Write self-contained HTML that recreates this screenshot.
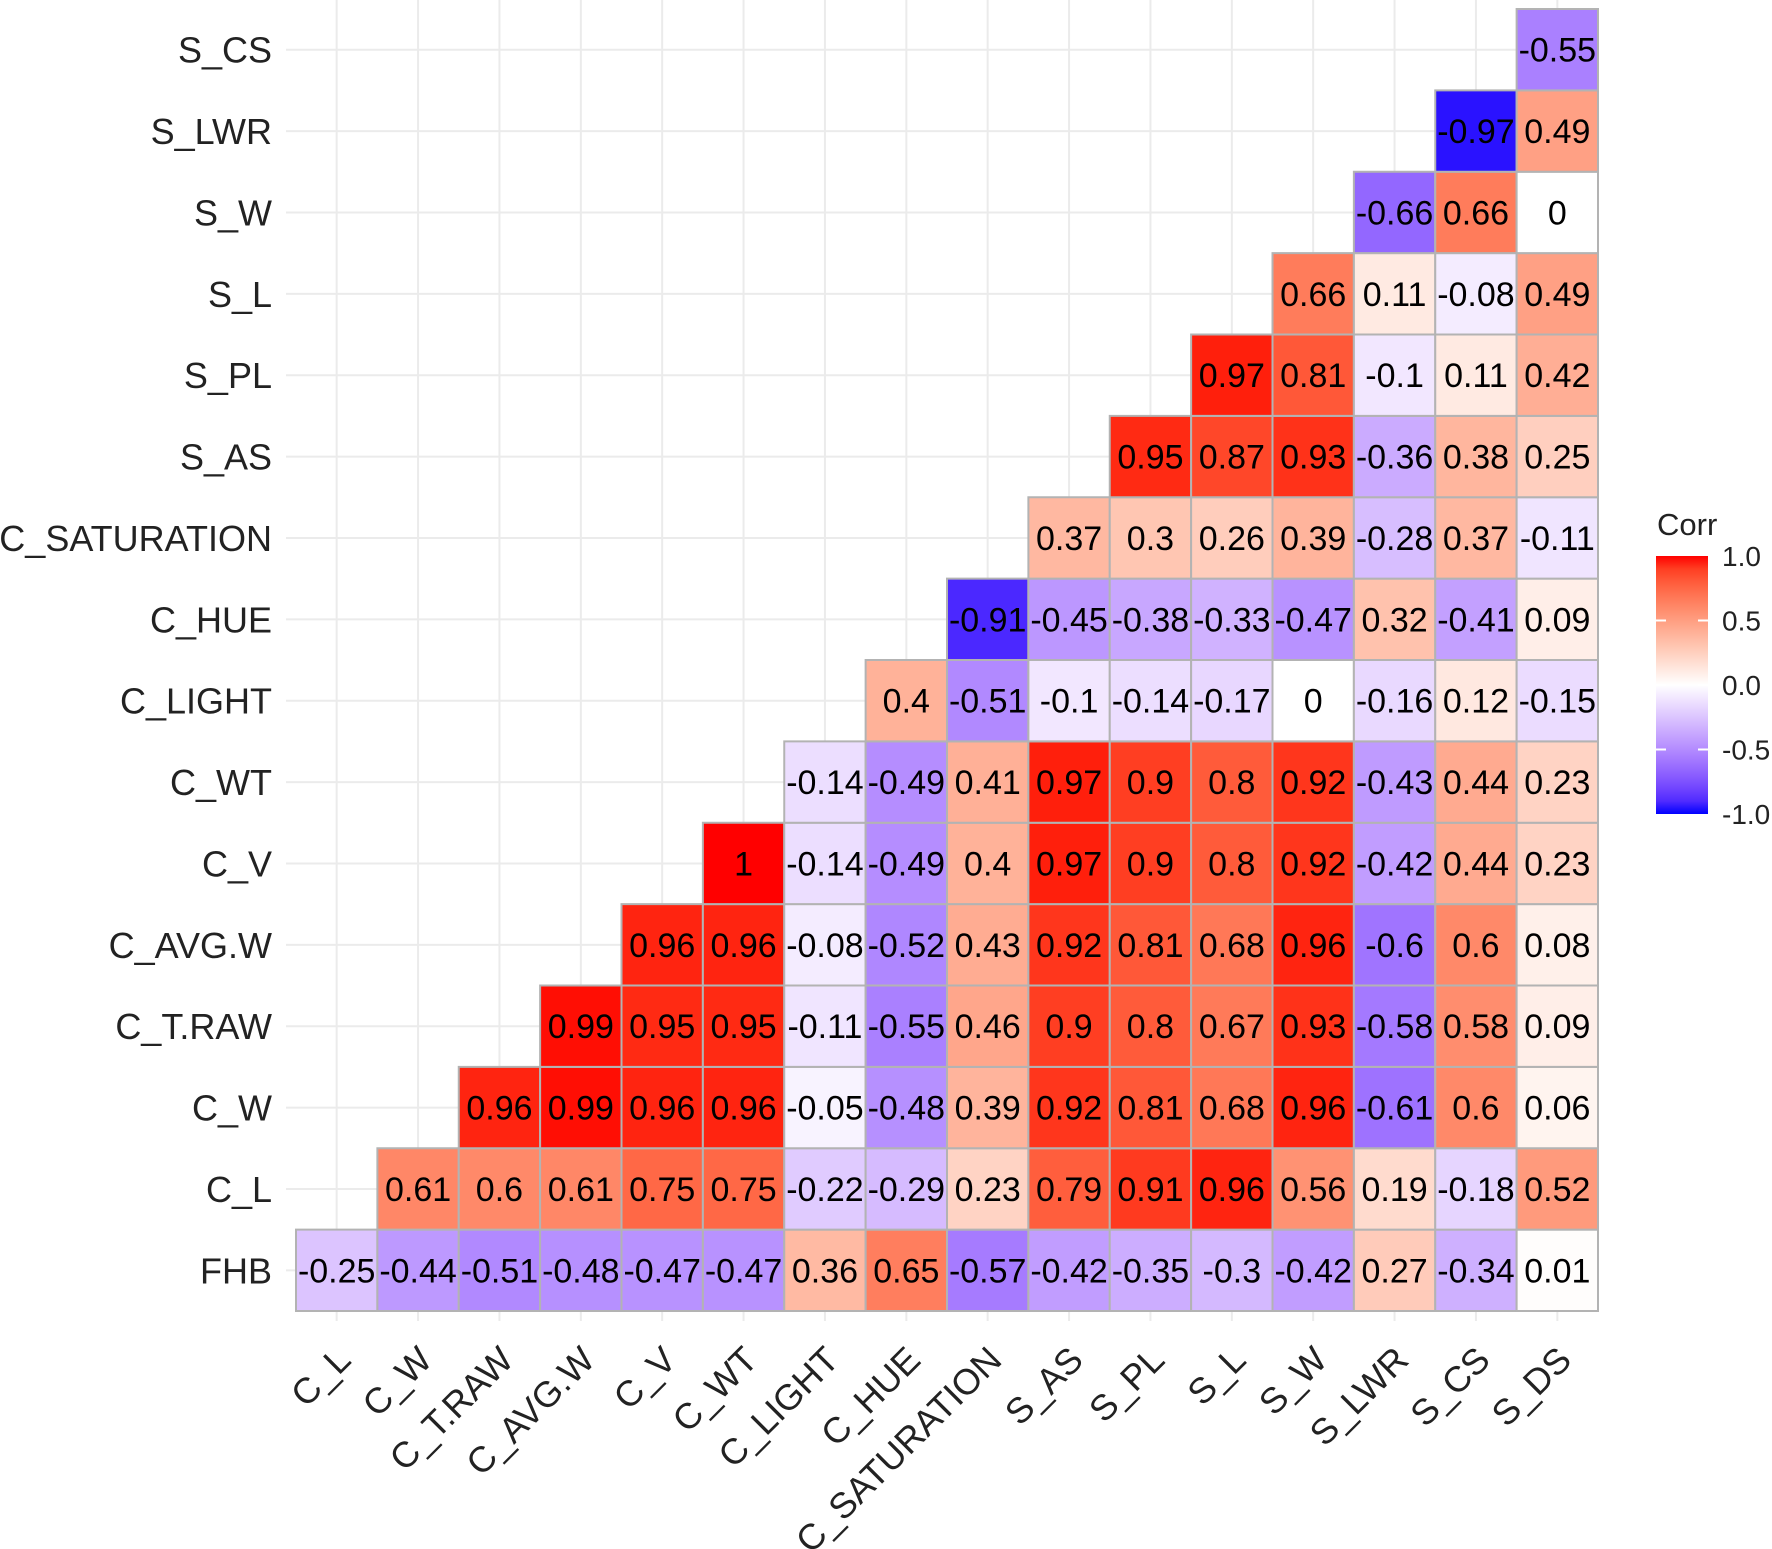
<!DOCTYPE html>
<html><head><meta charset="utf-8"><style>
html,body{margin:0;padding:0;background:#fff;}
svg{display:block;font-family:"Liberation Sans",Arial,sans-serif;}
</style></head><body>
<svg id="chart" width="1772" height="1549" viewBox="0 0 1772 1549" xmlns="http://www.w3.org/2000/svg">
<g id="grid"></g>
<g id="cells"></g>
<g id="ylabels"></g>
<g id="xlabels"></g>
<g id="legend">
<text x="1657" y="535" font-size="31" fill="#222">Corr</text>
<defs><linearGradient id="lg" x1="0" y1="0" x2="0" y2="1"></linearGradient></defs>
<rect x="1656" y="556" width="52" height="258" fill="url(#lg)"/>
</g>
</svg>
<script>
const rowLabels=["FHB","C_L","C_W","C_T.RAW","C_AVG.W","C_V","C_WT","C_LIGHT","C_HUE","C_SATURATION","S_AS","S_PL","S_L","S_W","S_LWR","S_CS"];
const colLabels=["C_L","C_W","C_T.RAW","C_AVG.W","C_V","C_WT","C_LIGHT","C_HUE","C_SATURATION","S_AS","S_PL","S_L","S_W","S_LWR","S_CS","S_DS"];
const vFHB=[-0.25,-0.44,-0.51,-0.48,-0.47,-0.47,0.36,0.65,-0.57,-0.42,-0.35,-0.3,-0.42,0.27,-0.34,0.01];
const vCL=[0.61,0.6,0.61,0.75,0.75,-0.22,-0.29,0.23,0.79,0.91,0.96,0.56,0.19,-0.18,0.52];
const vCW=[0.96,0.99,0.96,0.96,-0.05,-0.48,0.39,0.92,0.81,0.68,0.96,-0.61,0.6,0.06];
const vCTRAW=[0.99,0.95,0.95,-0.11,-0.55,0.46,0.9,0.8,0.67,0.93,-0.58,0.58,0.09];
const vCAVGW=[0.96,0.96,-0.08,-0.52,0.43,0.92,0.81,0.68,0.96,-0.6,0.6,0.08];
const vCV=[1,-0.14,-0.49,0.4,0.97,0.9,0.8,0.92,-0.42,0.44,0.23];
const vCWT=[-0.14,-0.49,0.41,0.97,0.9,0.8,0.92,-0.43,0.44,0.23];
const vCLIGHT=[0.4,-0.51,-0.1,-0.14,-0.17,0,-0.16,0.12,-0.15];
const vCHUE=[-0.91,-0.45,-0.38,-0.33,-0.47,0.32,-0.41,0.09];
const vCSAT=[0.37,0.3,0.26,0.39,-0.28,0.37,-0.11];
const vSAS=[0.95,0.87,0.93,-0.36,0.38,0.25];
const vSPL=[0.97,0.81,-0.1,0.11,0.42];
const vSL=[0.66,0.11,-0.08,0.49];
const vSW=[-0.66,0.66,0];
const vSLWR=[-0.97,0.49];
const vSCS=[-0.55];
const rows=[vFHB,vCL,vCW,vCTRAW,vCAVGW,vCV,vCWT,vCLIGHT,vCHUE,vCSAT,vSAS,vSPL,vSL,vSW,vSLWR,vSCS];
const legendTicks=[1.0,0.5,0.0,-0.5,-1.0];

const NS="http://www.w3.org/2000/svg";
const L=296,R=1598,T=9,B=1311;
const cw=(R-L)/16,ch=(B-T)/16;
const xPos=j=>L+j*cw;
const yPos=i=>B-(i+1)*ch;
function mk(t,a,p){const e=document.createElementNS(NS,t);for(const k in a)e.setAttribute(k,a[k]);p.appendChild(e);return e;}
function lab2rgb(Lc,a,b){let y=(Lc+16)/116,x=a/500+y,z=y-b/200;
 const f=t=>t**3>0.008856?t**3:(t-16/116)/7.787;
 x=0.95047*f(x);y=f(y);z=1.08883*f(z);
 let r=x*3.2406+y*-1.5372+z*-0.4986,g=x*-0.9689+y*1.8758+z*0.0415,bb=x*0.0557+y*-0.204+z*1.057;
 const c=v=>{v=v>0.0031308?1.055*Math.pow(v,1/2.4)-0.055:12.92*v;return Math.round(Math.max(0,Math.min(1,v))*255);};
 return `rgb(${c(r)},${c(g)},${c(bb)})`;}
const W=[100,0,0],RED=[53.24,80.09,67.2],BLU=[32.3,79.19,-107.86];
function col(v){const e=v>=0?RED:BLU,t=Math.min(1,Math.abs(v));return lab2rgb(W[0]+(e[0]-W[0])*t,W[1]+(e[1]-W[1])*t,W[2]+(e[2]-W[2])*t);}

const grid=document.getElementById('grid');
for(let j=0;j<16;j++){const x=xPos(j)+cw/2;
 const g=mk('line',{x1:x,x2:x,y1:0,y2:B+10,stroke:'#ebebeb','stroke-width':2},grid);
 
 }
for(let i=0;i<16;i++){const y=yPos(i)+ch/2;
 const g=mk('line',{x1:L-10,x2:R,y1:y,y2:y,stroke:'#ebebeb','stroke-width':2},grid);
 
 }

const cells=document.getElementById('cells');
rows.forEach((vals,i)=>{vals.forEach((v,k)=>{const j=i+k;
 const r=mk('rect',{x:xPos(j),y:yPos(i),width:cw,height:ch,fill:col(v),stroke:'#b3b3b3','stroke-width':2},cells);
 
 
 const t=mk('text',{x:xPos(j)+cw/2,y:yPos(i)+ch/2+12,'text-anchor':'middle','font-size':34,fill:'#000'},cells);
 t.textContent=String(v);
 
 });});

const yl=document.getElementById('ylabels');
rowLabels.forEach((s,i)=>{const t=mk('text',{x:272,y:yPos(i)+ch/2+13,'text-anchor':'end','font-size':36,fill:'#222'},yl);
 t.textContent=s;
 
 });
const xl=document.getElementById('xlabels');
colLabels.forEach((s,j)=>{const ax=xPos(j)+cw/2+16,ay=1362;
 const t=mk('text',{x:ax,y:ay,'text-anchor':'end','font-size':36,fill:'#222',transform:`rotate(-45 ${ax} ${ay})`},xl);
 t.textContent=s;
 
 });

const lg=document.getElementById('lg');
for(let k=0;k<=20;k++){const v=1-k/10;mk('stop',{offset:(k/20),'stop-color':col(v)},lg);}
const leg=document.getElementById('legend');
const ly=v=>556+(1-v)/2*258;
legendTicks.forEach(v=>{const y=ly(v);
 if(Math.abs(v)<1){mk('line',{x1:1656,x2:1666,y1:y,y2:y,stroke:'#fff','stroke-width':2},leg);mk('line',{x1:1698,x2:1708,y1:y,y2:y,stroke:'#fff','stroke-width':2},leg);}
 const t=mk('text',{x:1722,y:y+10,'font-size':28,fill:'#222'},leg);
 t.textContent=v.toFixed(1);
 
 });
</script>
</body></html>
